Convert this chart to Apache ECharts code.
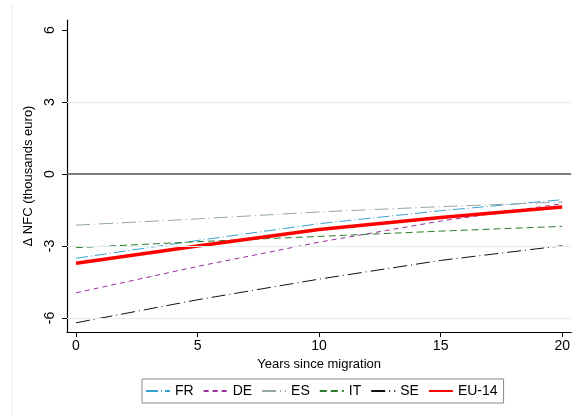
<!DOCTYPE html>
<html>
<head>
<meta charset="utf-8">
<script src="https://cdn.jsdelivr.net/npm/echarts@6/dist/echarts.min.js"></script>
<style>
  html, body { margin: 0; padding: 0; background: #fff; }
  #main { width: 573px; height: 416px; }
</style>
</head>
<body>
<div id="main"></div>
<script>
// years since migration
const years = [0, 5, 10, 15, 20];
// change in NFC, thousands euro
const fr = [-3.51, -2.77, -2.07, -1.53, -1.07];
const de = [-4.95, -3.85, -2.84, -1.96, -1.24];
const es = [-2.13, -1.87, -1.58, -1.36, -1.17];
const it = [-3.07, -2.82, -2.6, -2.38, -2.18];
const se = [-6.2, -5.24, -4.38, -3.6, -2.99];
const eu14 = [-3.72, -3.0, -2.31, -1.81, -1.375];

const xTicks = [0, 5, 10, 15, 20];
const yTicks = [-6, -3, 0, 3, 6];
const gridValues = [3, -3, -6];

const font = "Liberation Sans, Arial, sans-serif";

function pairs(ys) {
  return years.map((x, i) => [x, ys[i]]);
}

function line(name, ys, color, type, width) {
  return {
    name: name,
    type: "line",
    data: pairs(ys),
    symbol: "none",
    lineStyle: { color: color, type: type, width: width },
    itemStyle: { color: color },
    z: 3,
  };
}

const chart = echarts.init(document.getElementById("main"));
chart.setOption({
  animation: false,
  backgroundColor: "#fff",
  textStyle: { fontFamily: font },
  grid: { left: 67, top: 20, right: 0, bottom: 84 },
  graphic: [
    {
      type: "line",
      shape: { x1: 12, y1: 5, x2: 12, y2: 416 },
      style: { stroke: "#e8eded", lineWidth: 1 },
    },
  ],
  xAxis: {
    type: "value",
    min: -0.37,
    max: 20.37,
    name: "Years since migration",
    nameLocation: "middle",
    nameGap: 22,
    nameTextStyle: { color: "#000", fontSize: 13, fontFamily: font },
    axisLine: { show: true, onZero: false, lineStyle: { color: "#000", width: 1.2 } },
    axisTick: { show: true, customValues: xTicks, length: 5, lineStyle: { color: "#000" } },
    axisLabel: { customValues: xTicks, color: "#000", fontSize: 14, margin: 7 },
    splitLine: { show: false },
  },
  yAxis: {
    type: "value",
    min: -6.583,
    max: 6.417,
    name: "Δ NFC (thousands euro)",
    nameLocation: "middle",
    nameGap: 32,
    nameTextStyle: { color: "#000", fontSize: 13, fontFamily: font },
    axisLine: { show: true, onZero: false, lineStyle: { color: "#000", width: 1.2 } },
    axisTick: { show: true, customValues: yTicks, length: 5, lineStyle: { color: "#000" } },
    axisLabel: { customValues: yTicks, color: "#000", fontSize: 14, rotate: 90, margin: 10 },
    splitLine: { show: false },
  },
  legend: {
    data: ["FR", "DE", "ES", "IT", "SE", "EU-14"],
    left: 142,
    top: 379,
    width: 359,
    height: 25,
    padding: [5, 6, 5, 3],
    itemGap: 9,
    itemWidth: 24,
    itemHeight: 10,
    itemStyle: { opacity: 0 },
    borderColor: "#888",
    borderWidth: 1,
    textStyle: { color: "#000", fontSize: 14, fontFamily: font },
  },
  series: [
    {
      name: "grid",
      type: "line",
      data: [],
      silent: true,
      z: 1,
      markLine: {
        silent: true,
        symbol: "none",
        label: { show: false },
        data: gridValues
          .map((v) => ({ yAxis: v, lineStyle: { color: "#e4eded", width: 1, type: "solid" } }))
          .concat([{ yAxis: 0, lineStyle: { color: "#555", width: 1.5, type: "solid" } }]),
      },
    },
    line("FR", fr, "#3c9fd2", [12, 3, 1, 3], 1),
    line("DE", de, "#9a2ea1", [5, 4], 1),
    line("ES", es, "#93a7a2", [14, 4, 1, 4], 1),
    line("IT", it, "#2b7d2b", [7, 4], 1),
    line("SE", se, "#111", [14, 4, 1, 4], 1),
    line("EU-14", eu14, "#ff0000", "solid", 3.5),
  ],
});
</script>
</body>
</html>
